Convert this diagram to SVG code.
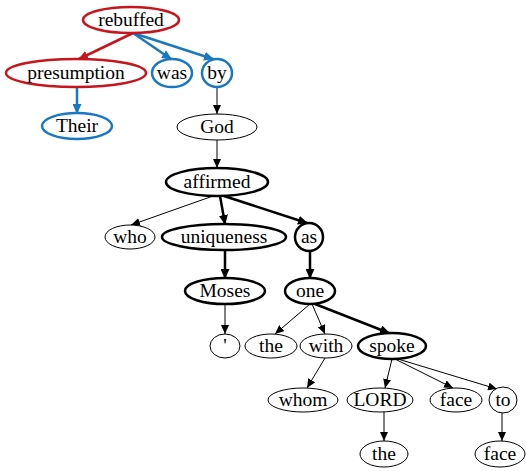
<svg xmlns="http://www.w3.org/2000/svg" width="526" height="471" viewBox="0 0 526 471">
<style>
.n ellipse{fill:#fff;stroke:#000;stroke-width:1}
.b ellipse{stroke-width:2.5}
.r ellipse{stroke:#c4161c;stroke-width:2.5}
.u ellipse{stroke:#1a78c2;stroke-width:2.5}
.e path{fill:none;stroke:#000;stroke-width:1;marker-end:url(#ak)}
.e path.t{stroke-width:2.5;marker-end:url(#akt)}
.e path.re{stroke:#c4161c;stroke-width:2.5;marker-end:url(#ar)}
.e path.bl{stroke:#1a78c2;stroke-width:2.5;marker-end:url(#ab)}
</style>
<defs>
<marker id="ak" markerUnits="userSpaceOnUse" markerWidth="10" markerHeight="8" refX="9" refY="4" orient="auto"><path d="M0,0L9,4L0,8z" fill="#000"/></marker>
<marker id="akt" markerUnits="userSpaceOnUse" markerWidth="11" markerHeight="9" refX="9" refY="4.5" orient="auto"><path d="M0,0L10,4.5L0,9z" fill="#000"/></marker>
<marker id="ar" markerUnits="userSpaceOnUse" markerWidth="11" markerHeight="9" refX="9" refY="4.5" orient="auto"><path d="M0,0L10,4.5L0,9z" fill="#c4161c"/></marker>
<marker id="ab" markerUnits="userSpaceOnUse" markerWidth="11" markerHeight="9" refX="9" refY="4.5" orient="auto"><path d="M0,0L10,4.5L0,9z" fill="#1a78c2"/></marker>
</defs>
<g id="edges" class="e">
<path class="re" d="M133,33L79,59"/>
<path class="bl" d="M133,33L171,59"/>
<path class="bl" d="M133,33L213,59"/>
<path class="bl" d="M77,87L77,113"/>
<path d="M217,87L217,114"/>
<path d="M217,140L217,168"/>
<path d="M213,196L131,225"/>
<path class="t" d="M220,196L225,224"/>
<path class="t" d="M224,196L307,223"/>
<path class="t" d="M225,250L225,278"/>
<path class="t" d="M310,251L310,278"/>
<path d="M225,304L225,334"/>
<path d="M310,304L275,334"/>
<path d="M312,304L325,334"/>
<path class="t" d="M315,304L389,333"/>
<path d="M325,358L307,388"/>
<path d="M392,359L385,388"/>
<path d="M395,359L453,388"/>
<path d="M398,359L497,389"/>
<path d="M384,412L384,441"/>
<path d="M502,413L502,441"/>
</g>
<g font-size="19.5" text-anchor="middle" fill="#000">
<g id="rebuffed" class="n r"><ellipse cx="131" cy="20" rx="48" ry="13"/><text font-family="Liberation Serif, serif" x="131" y="26">rebuffed</text></g>
<g id="presumption" class="n r"><ellipse cx="76" cy="73" rx="70" ry="14"/><text font-family="Liberation Serif, serif" x="76" y="79">presumption</text></g>
<g id="was" class="n u"><ellipse cx="172" cy="73" rx="20" ry="14"/><text font-family="Liberation Serif, serif" x="172" y="79">was</text></g>
<g id="by" class="n u"><ellipse cx="217" cy="73" rx="15" ry="14"/><text font-family="Liberation Serif, serif" x="217" y="79">by</text></g>
<g id="Their" class="n u"><ellipse cx="77" cy="126" rx="35" ry="13"/><text font-family="Liberation Serif, serif" x="77" y="132">Their</text></g>
<g id="God" class="n"><ellipse cx="217" cy="127" rx="40" ry="13"/><text font-family="Liberation Serif, serif" x="217" y="133">God</text></g>
<g id="affirmed" class="n b"><ellipse cx="217" cy="182" rx="51" ry="14"/><text font-family="Liberation Serif, serif" x="217" y="188">affirmed</text></g>
<g id="who" class="n"><ellipse cx="130" cy="237" rx="25" ry="12"/><text font-family="Liberation Serif, serif" x="130" y="243">who</text></g>
<g id="uniqueness" class="n b"><ellipse cx="224" cy="237" rx="62" ry="13"/><text font-family="Liberation Serif, serif" x="224" y="243">uniqueness</text></g>
<g id="as" class="n b"><ellipse cx="309" cy="237" rx="14" ry="14"/><text font-family="Liberation Serif, serif" x="309" y="243">as</text></g>
<g id="Moses" class="n b"><ellipse cx="225" cy="291" rx="40" ry="13"/><text font-family="Liberation Serif, serif" x="225" y="297">Moses</text></g>
<g id="one" class="n b"><ellipse cx="310" cy="291" rx="25" ry="13"/><text font-family="Liberation Serif, serif" x="310" y="297">one</text></g>
<g id="apos" class="n"><ellipse cx="225" cy="346" rx="15" ry="12"/><text font-family="Liberation Serif, serif" x="225" y="352">'</text></g>
<g id="the1" class="n"><ellipse cx="271" cy="346" rx="26" ry="12"/><text font-family="Liberation Serif, serif" x="271" y="352">the</text></g>
<g id="with" class="n"><ellipse cx="326" cy="346" rx="26" ry="12"/><text font-family="Liberation Serif, serif" x="326" y="352">with</text></g>
<g id="spoke" class="n b"><ellipse cx="392" cy="346" rx="34" ry="13"/><text font-family="Liberation Serif, serif" x="392" y="352">spoke</text></g>
<g id="whom" class="n"><ellipse cx="303" cy="400" rx="35" ry="12"/><text font-family="Liberation Serif, serif" x="303" y="406">whom</text></g>
<g id="LORD" class="n"><ellipse cx="380" cy="400" rx="33" ry="12"/><text font-family="Liberation Serif, serif" x="380" y="406">LORD</text></g>
<g id="face1" class="n"><ellipse cx="456" cy="400" rx="26" ry="12"/><text font-family="Liberation Serif, serif" x="456" y="406">face</text></g>
<g id="to" class="n"><ellipse cx="503" cy="400" rx="14" ry="13"/><text font-family="Liberation Serif, serif" x="503" y="406">to</text></g>
<g id="the2" class="n"><ellipse cx="384" cy="454" rx="24" ry="13"/><text font-family="Liberation Serif, serif" x="384" y="460">the</text></g>
<g id="face2" class="n"><ellipse cx="500" cy="454" rx="25" ry="13"/><text font-family="Liberation Serif, serif" x="500" y="460">face</text></g>
</g>
</svg>
